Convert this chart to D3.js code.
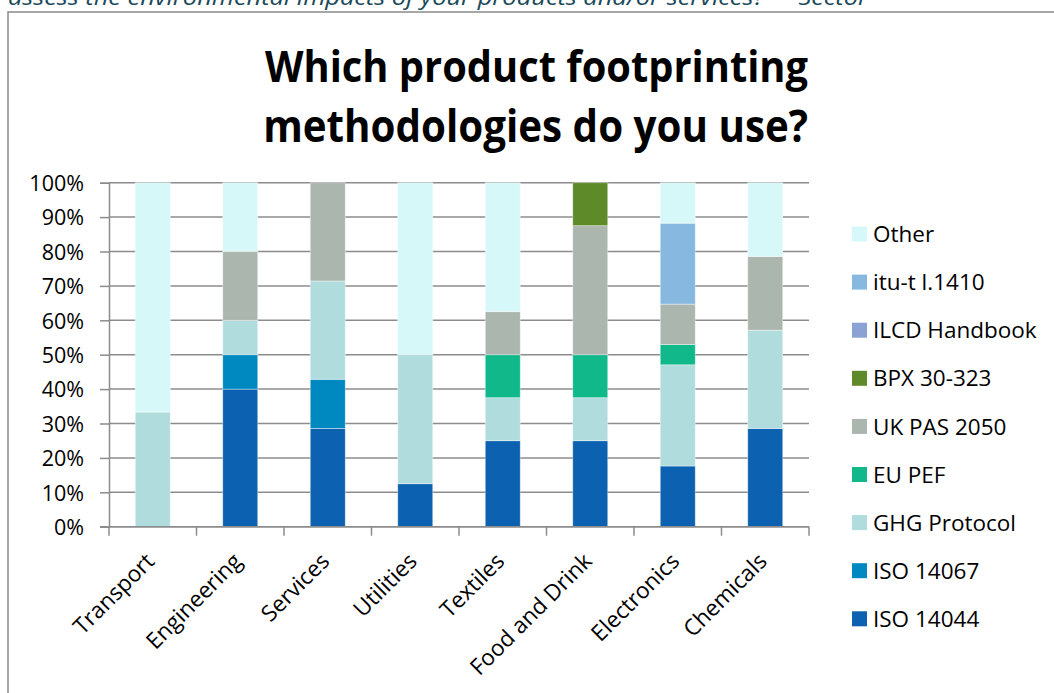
<!DOCTYPE html>
<html>
<head>
<meta charset="utf-8">
<script src="https://cdn.jsdelivr.net/npm/d3@7"></script>
<style>
  html, body { margin: 0; padding: 0; background: #fff; }
  svg { display: block; }
  text { font-family: "Open Sans", "DejaVu Sans", sans-serif; }
</style>
</head>
<body>
<svg id="chart" width="1054" height="693"></svg>
<script>
// ---- data ----
const categories = ["Transport", "Engineering", "Services", "Utilities", "Textiles", "Food and Drink", "Electronics", "Chemicals"];
const seriesNames = ["ISO 14044", "ISO 14067", "GHG Protocol", "EU PEF", "UK PAS 2050", "BPX 30-323", "ILCD Handbook", "itu-t l.1410", "Other"];
const iso14044 = [0, 40, 28.57, 12.5, 25, 25, 17.65, 28.57];
const iso14067 = [0, 10, 14.29, 0, 0, 0, 0, 0];
const ghgProtocol = [33.33, 10, 28.57, 37.5, 12.5, 12.5, 29.41, 28.57];
const euPef = [0, 0, 0, 0, 12.5, 12.5, 5.88, 0];
const ukPas2050 = [0, 20, 28.57, 0, 12.5, 37.5, 11.76, 21.43];
const bpx30323 = [0, 0, 0, 0, 0, 12.5, 0, 0];
const ilcdHandbook = [0, 0, 0, 0, 0, 0, 0, 0];
const ituT = [0, 0, 0, 0, 0, 0, 23.53, 0];
const other = [66.67, 20, 0, 50, 37.5, 0, 11.76, 21.43];
const seriesColors = ["#0c62b0", "#0089c0", "#b1dcdd", "#10b88a", "#abb6ae", "#5f8a2a", "#8aa2d4", "#86b8e0", "#d6f8f8"];
const yTicks = [0, 10, 20, 30, 40, 50, 60, 70, 80, 90, 100];
const titleLines = ["Which product footprinting", "methodologies do you use?"];
const topText = "assess the environmental impacts of your products and/or services?\u201D \u2013 Sector";

// ---- build ----
const seriesValues = [iso14044, iso14067, ghgProtocol, euPef, ukPas2050, bpx30323, ilcdHandbook, ituT, other];
const rows = categories.map((c, i) => {
  const r = { category: c };
  seriesNames.forEach((s, j) => r[s] = seriesValues[j][i]);
  return r;
});
const stacked = d3.stack().keys(seriesNames)(rows);

const svg = d3.select("#chart");
const plot = { left: 109, right: 809, top: 182.7, bottom: 526.7 };

const x = d3.scaleBand().domain(categories).range([plot.left, plot.right]).paddingInner(0).paddingOuter(0);
const y = d3.scaleLinear().domain([0, 100]).range([plot.bottom, plot.top]);
const color = d3.scaleOrdinal().domain(seriesNames).range(seriesColors);

// top cut-off text
svg.append("text")
  .attr("x", 8).attr("y", 5)
  .attr("font-size", 22).attr("font-style", "italic")
  .attr("fill", "#1b4a5a")
  .attr("textLength", 860).attr("lengthAdjust", "spacingAndGlyphs")
  .text(topText);

// frame
svg.append("path")
  .attr("d", "M8,693 L8,12 L1054,12")
  .attr("fill", "none").attr("stroke", "#8a8a8a").attr("stroke-width", 1.5);

// title
const title = svg.append("g");
titleLines.forEach((t, i) => {
  const baseY = 82 + i * 60;
  const el = title.append("text")
    .attr("x", 0).attr("y", 0)
    .attr("text-anchor", "end")
    .attr("font-weight", "bold")
    .attr("font-size", 40)
    .attr("fill", "#000")
    .text(t);
  const w = el.node().getComputedTextLength();
  const target = i === 0 ? 543 : 545;
  el.attr("font-size", 40 * target / w)
    .attr("transform", `translate(808,${baseY}) scale(1,1.1)`);
});

// gridlines
svg.append("g")
  .selectAll("line")
  .data(yTicks)
  .join("line")
  .attr("x1", plot.left).attr("x2", plot.right)
  .attr("y1", d => y(d)).attr("y2", d => y(d))
  .attr("stroke", "#8c8c8c").attr("stroke-width", 1.5);

// y axis
const yAxis = svg.append("g")
  .attr("transform", `translate(${plot.left},0)`)
  .call(d3.axisLeft(y).tickValues(yTicks).tickFormat(d => d + "%").tickSize(9).tickPadding(16));
yAxis.select(".domain").attr("stroke", "#8c8c8c").attr("stroke-width", 1.5);
yAxis.selectAll(".tick line").attr("stroke", "#8c8c8c").attr("stroke-width", 1.5);
yAxis.selectAll(".tick text")
  .attr("font-family", "'Open Sans', sans-serif")
  .attr("font-size", 21.5).attr("fill", "#000").attr("dy", "0.36em");

// bars
const barW = x.bandwidth() * 0.4;
svg.append("g")
  .selectAll("g")
  .data(stacked)
  .join("g")
  .attr("fill", d => color(d.key))
  .selectAll("rect")
  .data(d => d.filter(s => s[1] - s[0] > 0))
  .join("rect")
  .attr("x", d => x(d.data.category) + (x.bandwidth() - barW) / 2)
  .attr("width", barW)
  .attr("y", d => y(d[1]))
  .attr("height", d => y(d[0]) - y(d[1]))
  .attr("stroke", "rgba(255,255,255,0.5)").attr("stroke-width", 0.8);

// x axis (ticks at category boundaries)
const xAxisG = svg.append("g");
xAxisG.append("line")
  .attr("x1", plot.left - 9).attr("x2", plot.right)
  .attr("y1", plot.bottom).attr("y2", plot.bottom)
  .attr("stroke", "#8c8c8c").attr("stroke-width", 1.5);
const boundaries = categories.map(c => x(c)).concat([plot.right]);
xAxisG.selectAll("line.tk")
  .data(boundaries)
  .join("line").attr("class", "tk")
  .attr("x1", d => d).attr("x2", d => d)
  .attr("y1", plot.bottom).attr("y2", plot.bottom + 9)
  .attr("stroke", "#8c8c8c").attr("stroke-width", 1.5);
xAxisG.selectAll("text")
  .data(categories)
  .join("text")
  .attr("transform", d => `translate(${x(d) + x.bandwidth() / 2 + 3},${plot.bottom + 36}) rotate(-45)`)
  .attr("text-anchor", "end")
  .attr("font-size", 22.5)
  .attr("fill", "#000")
  .text(d => d);

// legend
const legendItems = seriesNames.slice().reverse();
const legend = svg.append("g");
legendItems.forEach((s, i) => {
  const cy = 234 + i * 48.1;
  legend.append("rect")
    .attr("x", 852).attr("y", cy - 7.5).attr("width", 15).attr("height", 15)
    .attr("fill", color(s));
  legend.append("text")
    .attr("x", 873).attr("y", cy).attr("dy", "0.36em")
    .attr("font-size", 22.5).attr("fill", "#000")
    .text(s);
});
</script>
</body>
</html>
